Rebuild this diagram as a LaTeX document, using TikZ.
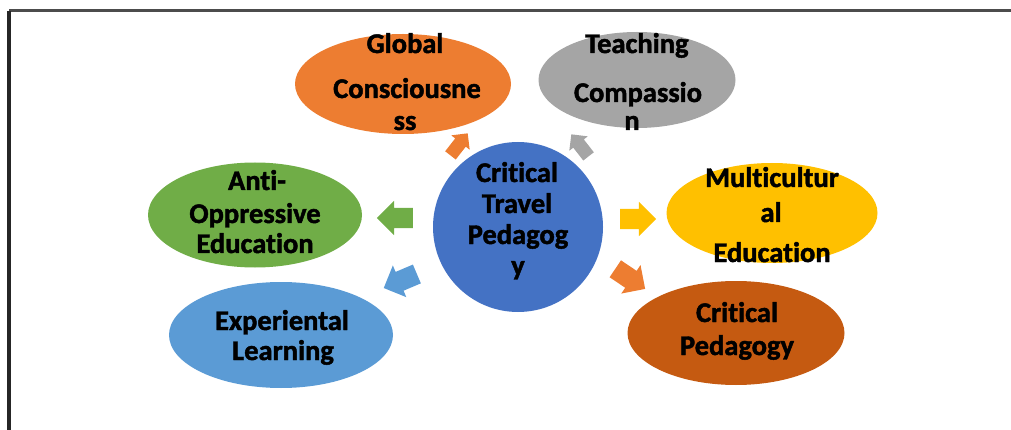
\documentclass[tikz,border=0pt]{standalone}
\usepackage{fontspec}
\setmainfont{Carlito}[Ligatures=NoCommon, BoldFeatures={FakeBold=1.6}]
\usetikzlibrary{shapes.arrows,shapes.geometric}
\definecolor{cOrange}{HTML}{ED7D31}
\definecolor{cGrey}{HTML}{A5A5A5}
\definecolor{cGreen}{HTML}{70AD47}
\definecolor{cYellow}{HTML}{FFC000}
\definecolor{cBlue}{HTML}{5B9BD5}
\definecolor{cDark}{HTML}{C55A11}
\definecolor{cCenter}{HTML}{4472C4}
\tikzset{
  lbl/.style={anchor=base, inner sep=0pt, font=\fontsize{28.5}{31}\selectfont\bfseries},
  bigarrow/.style={single arrow, draw=none, fill=#1, inner xsep=0pt, inner ysep=10pt,
    minimum height=36pt, single arrow head extend=7pt,
    single arrow head indent=0pt},
  smallarrow/.style={single arrow, draw=none, fill=#1, inner xsep=0pt, inner ysep=6.5pt,
    minimum height=28pt, single arrow head extend=5pt,
    single arrow head indent=0pt},
}
\begin{document}
\begin{tikzpicture}[x=1pt,y=-1pt]
\useasboundingbox (0,0) rectangle (1011,430);
% frame
\coordinate (tl) at (9,11);
\coordinate (tr) at (1011,11);
\coordinate (bl) at (9,430);
\draw[line width=3pt, color=black!70] (tl) -- (tr);
\draw[line width=3.5pt, color=black!85] (bl) -- (tl);
% ellipses
\node[ellipse, fill=cOrange, minimum width=216pt, minimum height=100pt, inner sep=0pt] (gc) at (403,84) {};
\node[ellipse, fill=cGrey, minimum width=197pt, minimum height=96pt, inner sep=0pt] (tc) at (637,80) {};
\node[ellipse, fill=cGreen, minimum width=214pt, minimum height=105pt, inner sep=0pt] (ao) at (255,215) {};
\node[ellipse, fill=cYellow, minimum width=211pt, minimum height=100pt, inner sep=0pt] (me) at (772,213) {};
\node[ellipse, fill=cBlue, minimum width=224pt, minimum height=106pt, inner sep=0pt] (el) at (281,335) {};
\node[ellipse, fill=cDark, minimum width=217pt, minimum height=104pt, inner sep=0pt] (cp) at (736,333) {};
\node[circle, fill=cCenter, minimum size=170pt, inner sep=0pt] (ctp) at (518,227) {};
% arrows
\node[smallarrow=cOrange, rotate=52] (a1) at (457,147) {};
\node[smallarrow=cGrey, rotate=128] (a2) at (582,148) {};
\node[bigarrow=cGreen, rotate=180] (a3) at (400,218) {};
\node[bigarrow=cYellow] (a4) at (633,219) {};
\node[bigarrow=cBlue, rotate=203] (a5) at (405,279) {};
\node[bigarrow=cOrange, rotate=-34] (a6) at (626,276) {};
% labels
\node[lbl] (gc1) at (405,53) {Global};
\node[lbl] (gc2) at (407,98) {Consciousne};
\node[lbl] (gc3) at (405,130) {ss};
\node[lbl] (tc1) at (637,53) {Teaching};
\node[lbl] (tc2) at (638,102) {Compassio};
\node[lbl] (tc3) at (632,130) {n};
\node[lbl] (ao1) at (257,190) {Anti-};
\node[lbl] (ao2) at (255,223) {Oppressive};
\node[lbl] (ao3) at (255,253) {Education};
\node[lbl] (me1) at (772,187) {Multicultur};
\node[lbl] (me2) at (771,222) {al};
\node[lbl] (me3) at (772,262) {Education};
\node[lbl] (el1) at (282,330) {Experiental};
\node[lbl] (el2) at (283,360) {Learning};
\node[lbl] (cp1) at (737,322) {Critical};
\node[lbl] (cp2) at (737,355) {Pedagogy};
\node[lbl] (c1) at (517,182) {Critical};
\node[lbl] (c2) at (517,213) {Travel};
\node[lbl] (c3) at (518,244) {Pedagog};
\node[lbl] (c4) at (518,275) {y};
\end{tikzpicture}
\end{document}
